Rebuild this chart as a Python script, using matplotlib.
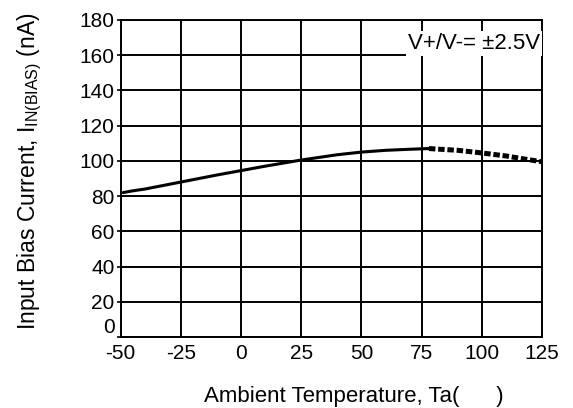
import matplotlib
matplotlib.use("Agg")
import matplotlib.pyplot as plt

plt.rcParams['font.family'] = ['Liberation Sans', 'DejaVu Sans']
plt.rcParams['axes.unicode_minus'] = False

### data ###
temp_solid   = [-49, -45, -40, -25, -10, 0, 10, 25, 40, 50, 60, 70, 78]
ibias_solid  = [82, 83, 84, 88, 92, 94.5, 97, 100.5, 103.5, 105, 106, 106.6, 107]
temp_dotted  = [78, 90, 100, 110, 118, 125]
ibias_dotted = [107, 106, 104.5, 102.8, 101, 99.5]

xticks = [-50, -25, 0, 25, 50, 75, 100, 125]
yticks = [0, 20, 40, 60, 80, 100, 120, 140, 160, 180]
supply_label = "V+/V-= \u00b12.5V"

fig = plt.figure(figsize=(5.73, 4.08), dpi=100)
ax  = fig.add_axes([0.2107, 0.174, 0.7353, 0.777])

ax.plot(temp_solid, ibias_solid, color='black', lw=2.2, solid_capstyle='round', zorder=4)
ax.plot(temp_dotted, ibias_dotted, color='black', lw=3.6,
        linestyle=(0, (1.3, 0.55)), dash_capstyle='butt', zorder=4)

ax.set_xlim(-50, 125)
ax.set_ylim(0, 180)
ax.set_xticks(xticks)
ax.set_yticks(yticks)
ax.grid(True, color='black', lw=1.4)
ax.set_axisbelow(True)

for s in ax.spines.values():
    s.set_linewidth(1.4)
    s.set_zorder(5)

ax.tick_params(axis='x', length=0, pad=5, labelsize=15)
ax.tick_params(axis='y', length=3, width=1.2, pad=1.5, labelsize=15)
# the "0" label sits on top of the axis line in the reference
ax.get_yticklabels()[0].set_verticalalignment('bottom')

ax.set_xlabel("Ambient Temperature, Ta(      )", fontsize=16)
ax.xaxis.set_label_coords(0.553, -0.155)
ax.set_ylabel(r"Input Bias Current, I$\mathregular{_{IN(BIAS)}}$ (nA)", fontsize=16.5)
ax.yaxis.set_label_coords(-0.182, 0.522)

ax.text(0.995, 0.96, supply_label, transform=ax.transAxes, ha='right', va='top',
        fontsize=16, zorder=6,
        bbox=dict(facecolor='white', edgecolor='none', pad=1.5))

fig.savefig("out.png", dpi=100)
